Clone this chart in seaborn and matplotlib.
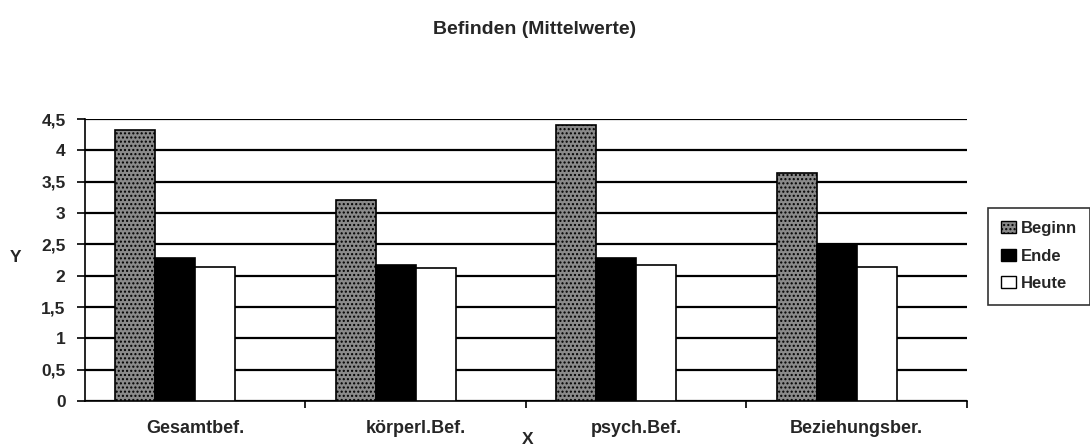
#!/usr/bin/env python3

# Grouped bar chart: Befinden (Mittelwerte) at three points in time.

import pandas as pd
import seaborn as sns
import matplotlib.pyplot as plt
from matplotlib.patches import Patch
from matplotlib.ticker import FuncFormatter, FixedLocator

categories = ["Gesamtbef.", "körperl.Bef.", "psych.Bef.", "Beziehungsber."]
beginn = [4.33, 3.21, 4.41, 3.64]
ende = [2.28, 2.17, 2.28, 2.49]
heute = [2.14, 2.12, 2.17, 2.14]
series = ["Beginn", "Ende", "Heute"]
y_ticks = [0, 0.5, 1, 1.5, 2, 2.5, 3, 3.5, 4, 4.5]

# Long table; a fourth empty hue slot keeps the Excel-like offset of the groups.
df = pd.DataFrame({
    "cat": categories * 3,
    "series": [s for s in series for _ in categories],
    "value": beginn + ende + heute,
})
hue_order = series + ["leer"]
palette = {"Beginn": "#8a8a8a", "Ende": "#000000", "Heute": "#ffffff", "leer": "#ffffff"}

sns.set_style("white")
plt.rcParams['font.family'] = ['Liberation Sans', 'DejaVu Sans']

fig = plt.figure(figsize=(10.9, 4.48), dpi=100)
ax = fig.add_axes([0.078, 0.105, 0.809, 0.629])

sns.barplot(
    data=df, x="cat", y="value", hue="series",
    hue_order=hue_order, palette=palette, order=categories,
    width=0.726, dodge=True, edgecolor="black", linewidth=1.2,
    saturation=1, legend=False, ax=ax, zorder=3,
)

# Stippled look for the "Beginn" bars.
for bar in ax.containers[0]:
    bar.set_hatch("....")
    bar.set_edgecolor("black")

ax.set_ylim(0, 4.5)
ax.set_xlim(-0.5, 3.5)
ax.yaxis.set_major_locator(FixedLocator(y_ticks))
ax.yaxis.set_major_formatter(FuncFormatter(lambda v, _: f"{v:g}".replace(".", ",")))
ax.grid(axis="y", color="black", linewidth=1.6, zorder=0)
ax.set_axisbelow(True)

for side in ["top", "right"]:
    ax.spines[side].set_visible(False)
for side in ["left", "bottom"]:
    ax.spines[side].set_color("black")
    ax.spines[side].set_linewidth(1.2)

ax.tick_params(axis="y", direction="out", length=6, width=1.2, color="black",
               labelsize=12.5, pad=8, left=True)
ax.tick_params(axis="x", which="major", length=0, labelsize=13, pad=14)
ax.set_xticks([0.5, 1.5, 2.5, 3.5], minor=True)
ax.tick_params(axis="x", which="minor", direction="out", length=5, width=1.2,
               color="black", bottom=True)
for lab in ax.get_xticklabels() + ax.get_yticklabels():
    lab.set_fontweight("bold")

ax.set_xlabel("X", fontsize=12.5, fontweight="bold", va="center")
ax.xaxis.set_label_coords(0.502, -0.138)
ax.set_ylabel("Y", fontsize=12.5, fontweight="bold", rotation=0, va="center", ha="center")
ax.yaxis.set_label_coords(-0.079, 0.51)

fig.text(0.49, 0.935, "Befinden (Mittelwerte)", ha="center", va="center",
         fontsize=14, fontweight="bold")

handles = [
    Patch(facecolor=palette["Beginn"], edgecolor="black", hatch="...."),
    Patch(facecolor=palette["Ende"], edgecolor="black"),
    Patch(facecolor=palette["Heute"], edgecolor="black"),
]
leg = fig.legend(handles, series, loc="upper left", bbox_to_anchor=(0.906, 0.536),
                 frameon=True, fancybox=False, edgecolor="black",
                 prop={"weight": "bold", "size": 12},
                 handlelength=0.9, handleheight=0.75, handletextpad=0.3,
                 labelspacing=0.75, borderpad=0.8, borderaxespad=0)
leg.get_frame().set_linewidth(1.2)

plt.savefig("out.png", dpi=100)
